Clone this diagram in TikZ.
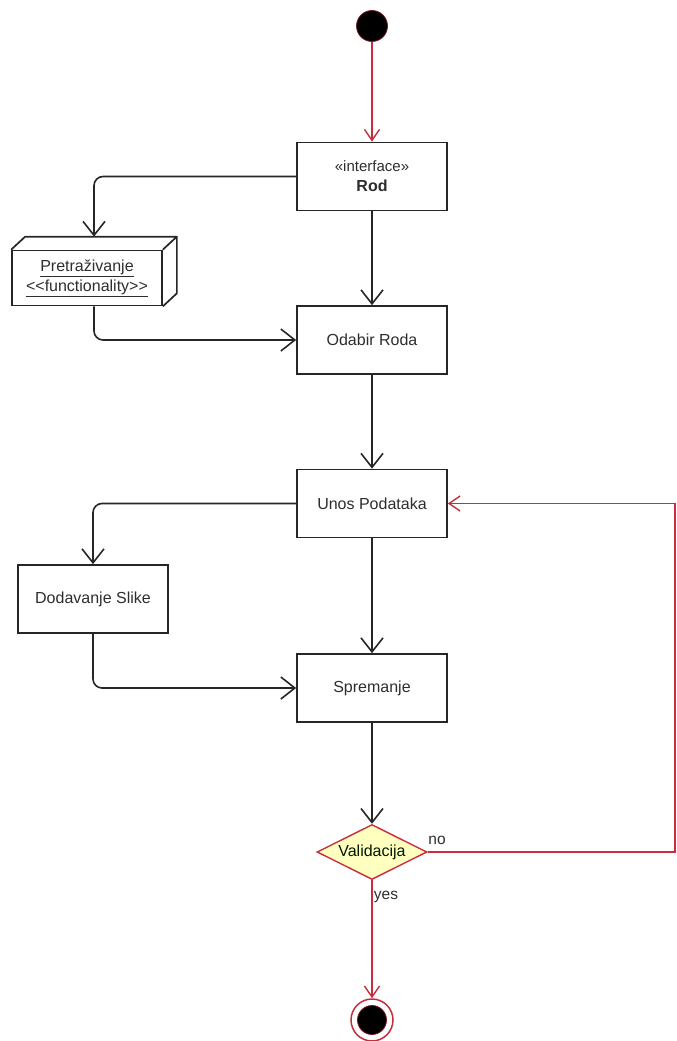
\documentclass[tikz,border=0pt]{standalone}
\usepackage{fontspec}
\setmainfont{Liberation Sans}
\usetikzlibrary{arrows.meta,shapes.geometric,calc}
\definecolor{redline}{RGB}{200,45,60}
\definecolor{dfill}{RGB}{255,255,192}
\definecolor{txt}{RGB}{45,45,45}
\tikzset{
  flow/.style={draw=black!85, line width=1.6pt, rounded corners=9pt,
    -{Straight Barb[length=14pt,width=22pt,line width=1.6pt]}},
  rflow/.style={draw=redline, line width=1.4pt,
    -{Straight Barb[length=11pt,width=15pt,line width=1.4pt]}},
  actbox/.style={draw=black!85, line width=1.7pt, minimum width=150pt, minimum height=68pt,
    font=\fontsize{16}{19}\selectfont, text=txt, align=center, inner sep=0pt},
  lbl/.style={font=\fontsize{15.5}{18}\selectfont, text=txt, inner sep=0pt},
}
\begin{document}
\begin{tikzpicture}[x=1pt,y=-1pt]
\useasboundingbox (0,0) rectangle (677,1041);
% initial
\node[circle, fill=black, draw=redline!60!black, line width=0.8pt, minimum size=31pt, inner sep=0pt] (init) at (372,26) {};
% boxes
\node[actbox] (rod) at (372,176.5) {\fontsize{15}{18}\selectfont«interface»\\[1pt]\textbf{Rod}};
\node[actbox] (odabir) at (372,340) {Odabir Roda};
\node[actbox] (unos) at (372,503.5) {Unos Podataka};
\node[actbox] (dod) at (93,599) {Dodavanje Slike};
\node[actbox] (sprem) at (372,688) {Spremanje};
% 3D functionality box
\node[draw=black!85, line width=1.7pt, minimum width=150pt, minimum height=55pt, inner sep=0pt,
  font=\fontsize{16}{19}\selectfont, text=txt, align=center] (pret) at (87,278)
  {\underline{Pretraživanje}\\[1pt]\underline{<{}<functionality>{}>}};
\draw[black!85, line width=1.7pt, line join=round]
  (pret.north west) -- ++(14,-13) -- ($(pret.north east)+(14,-13)$) -- (pret.north east)
  ($(pret.north east)+(14,-13)$) -- ($(pret.south east)+(14,-13)$) -- (pret.south east);
\coordinate (pretin) at ($(pret.north)+(7,-13)$);
\coordinate (pretout) at ($(pret.south)+(7,0)$);
% decision
\node[diamond, draw=redline, fill=dfill, line width=1.4pt, minimum width=110pt, minimum height=55pt,
  inner sep=0pt, aspect=2] (val) at (372,852) {};
\node[font=\fontsize{16}{19}\selectfont, text=black!75!green!40!black] (valt) at (372,852) {Validacija};
% final
\node[circle, draw=redline, line width=1.5pt, minimum size=42pt, inner sep=0pt] (fin) at (372,1020) {};
\node[circle, fill=black, draw=redline!60!black, line width=0.8pt, minimum size=29pt, inner sep=0pt] (finin) at (372,1020) {};
% connectors
\draw[rflow] (init) -- (rod);
\draw[flow] (rod.west) -| (pretin);
\draw[flow] (rod) -- (odabir);
\draw[flow] (pretout) |- (odabir.west);
\draw[flow] (odabir) -- (unos);
\draw[flow] (unos.west) -| (dod.north);
\draw[flow] (unos) -- (sprem);
\draw[flow] (dod.south) |- (sprem.west);
\draw[flow] (sprem) -- (val.north);
\coordinate (rc) at (675,852);
\draw[rflow] (val.east) -- (rc) -- (rc |- unos.east) -- (unos.east);
\draw[rflow] (val.south) -- (fin.north);
\node[lbl] (no) at (437,840) {no};
\node[lbl] (yes) at (386,897) {yes};
\end{tikzpicture}
\end{document}
